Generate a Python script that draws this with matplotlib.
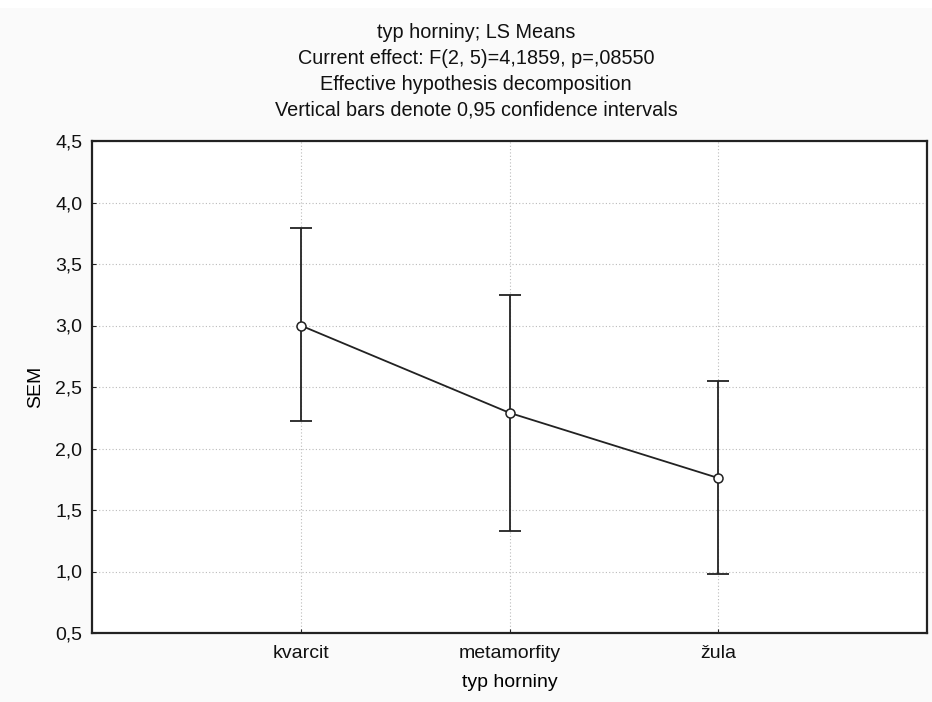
import matplotlib
matplotlib.use("Agg")
import matplotlib.pyplot as plt
from matplotlib.patches import Rectangle
from matplotlib.ticker import FuncFormatter

# LS means of SEM per rock type, with 0.95 confidence limits
categories = ["kvarcit", "metamorfity", "žula"]
means = [3.00, 2.29, 1.76]
ci_lower = [2.22, 1.33, 0.98]
ci_upper = [3.79, 3.25, 2.55]

title_lines = [
    "typ horniny; LS Means",
    "Current effect: F(2, 5)=4,1859, p=,08550",
    "Effective hypothesis decomposition",
    "Vertical bars denote 0,95 confidence intervals",
]
y_ticks = [0.5, 1.0, 1.5, 2.0, 2.5, 3.0, 3.5, 4.0, 4.5]

plt.rcParams["font.family"] = ["Liberation Sans", "DejaVu Sans"]
plt.rcParams["font.size"] = 14

fig = plt.figure(figsize=(9.32, 7.02), dpi=100, facecolor="#fafafa")
# thin white strip along the top edge, as in the exported original
fig.patches.append(Rectangle((0, 1 - 8 / 702), 1, 8 / 702, transform=fig.transFigure,
                             facecolor="white", edgecolor="none", zorder=0))

ax = fig.add_axes([92 / 932, 1 - 633 / 702, (927 - 92) / 932, (633 - 141) / 702])
ax.set_facecolor("white")

x = list(range(len(categories)))
err_lo = [m - lo for m, lo in zip(means, ci_lower)]
err_hi = [hi - m for m, hi in zip(means, ci_upper)]
ax.errorbar(x, means, yerr=[err_lo, err_hi], fmt="none", ecolor="#222222",
            elinewidth=1.3, capsize=8, capthick=1.3, zorder=3)
ax.plot(x, means, color="#222222", lw=1.3, marker="o", markersize=6.5,
        markerfacecolor="white", markeredgecolor="#222222", markeredgewidth=1.1,
        zorder=4)

ax.set_xlim(-1, 3)
ax.set_ylim(0.5, 4.5)
ax.set_xticks(x)
ax.set_xticklabels(categories)
ax.set_yticks(y_ticks)
ax.yaxis.set_major_formatter(FuncFormatter(lambda v, p: f"{v:.1f}".replace(".", ",")))
ax.tick_params(direction="in", length=3, width=0.8, colors="#222222",
               labelcolor="#111111", labelsize=14)
ax.tick_params(axis="x", pad=9)
ax.tick_params(axis="y", pad=7)
ax.grid(True, linestyle=(0, (1, 2)), color="#bbbbbb", linewidth=0.8)
ax.set_axisbelow(True)
for s in ax.spines.values():
    s.set_color("#222222")
    s.set_linewidth(1.6)

ax.set_xlabel("typ horniny", fontsize=14, labelpad=8)
ax.set_ylabel("SEM", fontsize=14, labelpad=8)

for i, line in enumerate(title_lines):
    fig.text(476 / 932, 1 - (33 + i * 25.7) / 702, line, ha="center", va="center",
             fontsize=14.3, color="#111111")

fig.savefig("out.png", dpi=100, facecolor=fig.get_facecolor())
